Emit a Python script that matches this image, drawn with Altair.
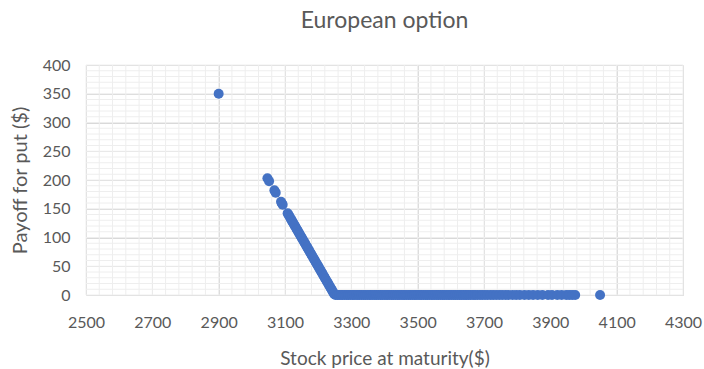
import altair as alt
import pandas as pd

# Simulated stock prices at maturity and the put payoffs they produce
slope_price = [2900, 3047, 3052, 3068, 3072, 3088, 3091, 3093, 3108, 3111, 3114,
               3117, 3119, 3122, 3124, 3127, 3129, 3131, 3134, 3136, 3138, 3141,
               3143, 3146, 3148, 3151, 3153, 3156, 3158, 3161, 3163, 3166, 3168,
               3171, 3173, 3176, 3178, 3181, 3183, 3186, 3188, 3191, 3193, 3196,
               3198, 3201, 3203, 3206, 3208, 3211, 3213, 3216, 3218, 3221, 3223,
               3226, 3228, 3231, 3233, 3236, 3238, 3241, 3243, 3246, 3248]
slope_payoff = [350, 203, 198, 182, 178, 162, 159, 157, 142, 139, 136,
                133, 131, 128, 126, 123, 121, 119, 116, 114, 112, 109,
                107, 104, 102, 99, 97, 94, 92, 89, 87, 84, 82,
                79, 77, 74, 72, 69, 67, 64, 62, 59, 57, 54,
                52, 49, 47, 44, 42, 39, 37, 34, 32, 29, 27,
                24, 22, 19, 17, 14, 12, 9, 7, 4, 2]

flat_price = [3252, 3258, 3263, 3269, 3274, 3280, 3286, 3291, 3297, 3303, 3308,
              3314, 3320, 3325, 3331, 3337, 3342, 3348, 3354, 3359, 3365, 3371,
              3376, 3382, 3388, 3393, 3399, 3405, 3410, 3416, 3422, 3427, 3433,
              3439, 3444, 3450, 3456, 3461, 3467, 3473, 3478, 3484, 3490, 3495,
              3501, 3507, 3512, 3518, 3524, 3529, 3535, 3541, 3546, 3552, 3558,
              3563, 3569, 3575, 3580, 3586, 3592, 3597, 3603, 3609, 3614, 3620,
              3626, 3631, 3637, 3643, 3648, 3654, 3660, 3667, 3673, 3680, 3688,
              3695, 3703, 3711, 3720, 3728, 3737, 3746, 3755, 3765, 3774, 3786,
              3797, 3808, 3822, 3835, 3848, 3862, 3876, 3893, 3905, 3921, 3934,
              3948, 3957, 3966, 3975, 4050]
flat_payoff = [0] * len(flat_price)

x_ticks = [2500, 2700, 2900, 3100, 3300, 3500, 3700, 3900, 4100, 4300]
y_ticks = [0, 50, 100, 150, 200, 250, 300, 350, 400]
x_minor = list(range(2500, 4301, 40))
y_minor = list(range(0, 401, 10))

points = pd.DataFrame({
    "price": slope_price + flat_price,
    "payoff": slope_payoff + flat_payoff,
})

FONT = "Lato"
TEXT = "#595959"
W, H = 597, 230

x_scale = alt.Scale(domain=[2500, 4300], nice=False, zero=False)
y_scale = alt.Scale(domain=[0, 400], nice=False)

x_axis = alt.Axis(values=x_ticks, title="Stock price at maturity($)",
                  grid=True, gridColor="#d9d9d9", domain=False,
                  ticks=False, labelPadding=19, titlePadding=19, format="d",
                  labelFlush=False, labelOverlap=False, titleFontSize=19)
y_axis = alt.Axis(values=y_ticks, title="Payoff for put ($)",
                  grid=True, gridColor="#d9d9d9", domain=False,
                  ticks=False, labelPadding=16, titlePadding=12, format="d",
                  labelFlush=False, labelOverlap=False, titleFontSize=20)

# light minor gridlines: every 40 on price, every 10 on payoff
minor_v = alt.Chart(pd.DataFrame({"price": x_minor})).mark_rule(
    color="#eeeeee", strokeWidth=1
).encode(x=alt.X("price:Q", scale=x_scale, axis=x_axis))

minor_h = alt.Chart(pd.DataFrame({"payoff": y_minor})).mark_rule(
    color="#eeeeee", strokeWidth=1
).encode(y=alt.Y("payoff:Q", scale=y_scale, axis=y_axis))

scatter = alt.Chart(points).mark_circle(
    size=100, color="#4472C4", opacity=1
).encode(
    x=alt.X("price:Q", scale=x_scale, axis=x_axis),
    y=alt.Y("payoff:Q", scale=y_scale, axis=y_axis),
)

chart = alt.layer(minor_v, minor_h, scatter).properties(
    width=W, height=H,
    title=alt.TitleParams("European option", fontSize=23, font=FONT,
                          color=TEXT, fontWeight="normal", anchor="middle",
                          offset=24),
    padding={"left": 86, "top": 65, "right": 21, "bottom": 74},
    autosize=alt.AutoSizeParams(type="none"),
).configure_view(stroke=None).configure_axis(
    labelFont=FONT, titleFont=FONT, labelFontSize=16,
    labelColor=TEXT, titleColor=TEXT, titleFontWeight="normal",
    gridWidth=1,
)

chart.save("out.html", embed_options={"renderer": "svg", "actions": False})
